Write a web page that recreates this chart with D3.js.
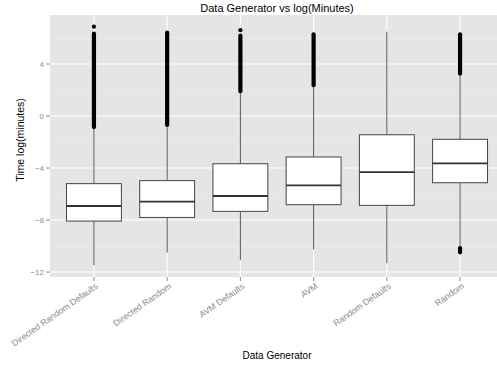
<!DOCTYPE html>
<html>
<head>
<meta charset="utf-8">
<script src="https://cdn.jsdelivr.net/npm/d3@7"></script>
<style>
  body { margin: 0; background: #fff; }
  svg { display: block; font-family: "Liberation Sans", Arial, sans-serif; }
</style>
</head>
<body>
<div id="chart"></div>
<script>
const categories = ['Directed Random Defaults', 'Directed Random', 'AVM Defaults', 'AVM', 'Random Defaults', 'Random'];
const q1 = [-8.08, -7.80, -7.33, -6.82, -6.87, -5.13];
const median = [-6.92, -6.59, -6.15, -5.33, -4.31, -3.64];
const q3 = [-5.20, -4.97, -3.67, -3.15, -1.44, -1.79];
const whiskerLow = [-11.46, -10.50, -11.08, -10.26, -11.33, -10.05];
const whiskerHigh = [-1.00, -0.85, 1.75, 2.20, 6.49, 3.10];

// dense runs of outlier points (start / end value of each run)
const runCategory = ['Directed Random Defaults', 'Directed Random', 'AVM Defaults', 'AVM', 'Random', 'Random'];
const runLow = [-0.85, -0.69, 1.90, 2.36, 3.25, -10.48];
const runHigh = [6.33, 6.41, 6.18, 6.28, 6.28, -10.15];

// isolated outliers
const pointCategory = ['Directed Random Defaults', 'AVM Defaults'];
const pointValue = [6.87, 6.60];

const yTicks = [-12, -8, -4, 0, 4];
const yMinorTicks = [-10, -6, -2, 2, 6];

const width = 497, height = 367;
const panel = { left: 50, right: 504, top: 15, bottom: 277 };

const svg = d3.select('#chart')
  .append('svg')
  .attr('width', width)
  .attr('height', height);

const x = d3.scalePoint()
  .domain(categories)
  .range([panel.left, panel.right])
  .padding(0.6);

const y = d3.scaleLinear()
  .domain([-12.38, 7.77])
  .range([panel.bottom, panel.top]);

const boxWidth = x.step() * 0.75;

// panel background
svg.append('rect')
  .attr('x', panel.left)
  .attr('y', panel.top)
  .attr('width', panel.right - panel.left)
  .attr('height', panel.bottom - panel.top)
  .attr('fill', '#e5e5e5');

// grid
yMinorTicks.forEach(t => {
  svg.append('line')
    .attr('x1', panel.left).attr('x2', panel.right)
    .attr('y1', y(t)).attr('y2', y(t))
    .attr('stroke', '#f2f2f2')
    .attr('stroke-width', 0.6);
});
yTicks.forEach(t => {
  svg.append('line')
    .attr('x1', panel.left).attr('x2', panel.right)
    .attr('y1', y(t)).attr('y2', y(t))
    .attr('stroke', '#ffffff')
    .attr('stroke-width', 1.1);
});
categories.forEach(c => {
  svg.append('line')
    .attr('x1', x(c)).attr('x2', x(c))
    .attr('y1', panel.top).attr('y2', panel.bottom)
    .attr('stroke', '#ffffff')
    .attr('stroke-width', 1.1);
});

// boxplots
categories.forEach((c, i) => {
  const cx = x(c);
  svg.append('line')
    .attr('x1', cx).attr('x2', cx)
    .attr('y1', y(whiskerLow[i])).attr('y2', y(q1[i]))
    .attr('stroke', '#555').attr('stroke-width', 1);
  svg.append('line')
    .attr('x1', cx).attr('x2', cx)
    .attr('y1', y(q3[i])).attr('y2', y(whiskerHigh[i]))
    .attr('stroke', '#555').attr('stroke-width', 1);
  svg.append('rect')
    .attr('x', cx - boxWidth / 2)
    .attr('y', y(q3[i]))
    .attr('width', boxWidth)
    .attr('height', y(q1[i]) - y(q3[i]))
    .attr('fill', '#fff')
    .attr('stroke', '#444')
    .attr('stroke-width', 1);
  svg.append('line')
    .attr('x1', cx - boxWidth / 2).attr('x2', cx + boxWidth / 2)
    .attr('y1', y(median[i])).attr('y2', y(median[i]))
    .attr('stroke', '#333').attr('stroke-width', 1.8);
});

// outliers
runCategory.forEach((c, i) => {
  svg.append('line')
    .attr('x1', x(c)).attr('x2', x(c))
    .attr('y1', y(runLow[i])).attr('y2', y(runHigh[i]))
    .attr('stroke', '#000')
    .attr('stroke-width', 4.2)
    .attr('stroke-linecap', 'round');
});
pointCategory.forEach((c, i) => {
  svg.append('circle')
    .attr('cx', x(c))
    .attr('cy', y(pointValue[i]))
    .attr('r', 2.1)
    .attr('fill', '#000');
});

// y axis
yTicks.forEach(t => {
  svg.append('line')
    .attr('x1', panel.left - 4).attr('x2', panel.left)
    .attr('y1', y(t)).attr('y2', y(t))
    .attr('stroke', '#8a8a8a');
  svg.append('text')
    .attr('x', panel.left - 6)
    .attr('y', y(t))
    .attr('dy', '0.35em')
    .attr('text-anchor', 'end')
    .style('font-size', '8px')
    .attr('fill', '#8a8a8a')
    .text(d3.format('')(t).replace('-', '\u2212'));
});

// x axis
categories.forEach(c => {
  svg.append('line')
    .attr('x1', x(c)).attr('x2', x(c))
    .attr('y1', panel.bottom).attr('y2', panel.bottom + 4)
    .attr('stroke', '#8a8a8a');
  svg.append('text')
    .attr('transform', `translate(${x(c) + 3},${panel.bottom + 8}) rotate(-35)`)
    .attr('text-anchor', 'end')
    .attr('dy', '0.35em')
    .style('font-size', '8.8px')
    .attr('fill', '#8a8a8a')
    .text(c);
});

// titles
const midX = (panel.left + panel.right) / 2;
svg.append('text')
  .attr('x', midX)
  .attr('y', 11.5)
  .attr('text-anchor', 'middle')
  .style('font-size', '11px')
  .text('Data Generator vs log(Minutes)');

svg.append('text')
  .attr('x', midX)
  .attr('y', 359)
  .attr('text-anchor', 'middle')
  .style('font-size', '10px')
  .text('Data Generator');

svg.append('text')
  .attr('transform', `translate(24,140) rotate(-90)`)
  .attr('text-anchor', 'middle')
  .style('font-size', '10.5px')
  .text('Time log(minutes)');
</script>
</body>
</html>
